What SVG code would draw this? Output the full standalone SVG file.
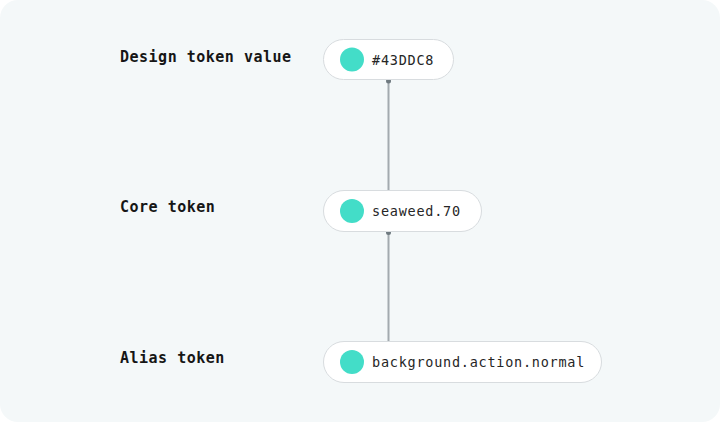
<svg xmlns="http://www.w3.org/2000/svg" width="720" height="422" viewBox="0 0 720 422">
<style>
.label{font-family:"DejaVu Sans Mono","Liberation Mono",monospace;font-weight:bold;font-size:15px;fill:#161616;letter-spacing:0.5px}
.pill{fill:#ffffff;stroke:#d8dcdf;stroke-width:1}
.sw{fill:#43ddc8}
.val{font-family:"DejaVu Sans Mono","Liberation Mono",monospace;font-size:13.5px;fill:#262626;letter-spacing:0.75px}
.conn{stroke:#a3aaaf;stroke-width:2;fill:none}
.dot{fill:#6f7a80}
</style>
<rect x="0" y="0" width="720" height="422" fill="#ffffff"/>
<rect x="0" y="0" width="720" height="422" rx="18" fill="#f4f8f9"/>
<g id="labels">
<text class="label" x="120" y="62">Design token value</text>
<text class="label" x="120" y="212">Core token</text>
<text class="label" x="120" y="363">Alias token</text>
</g>
<g id="connectors">
<line class="conn" x1="388.5" y1="81" x2="388.5" y2="190"/>
<circle class="dot" cx="388.5" cy="81" r="2.5"/>
<line class="conn" x1="388.5" y1="232" x2="388.5" y2="341"/>
<circle class="dot" cx="388.5" cy="232.5" r="2.5"/>
</g>
<g id="node-value">
<rect class="pill" x="323.5" y="39.5" width="130" height="40" rx="20"/>
<circle class="sw" cx="352" cy="59.5" r="12"/>
<text class="val" x="372" y="64.5">#43DDC8</text>
</g>
<g id="node-core">
<rect class="pill" x="323.5" y="190.5" width="158" height="41" rx="20.5"/>
<circle class="sw" cx="352" cy="211" r="12"/>
<text class="val" x="372" y="216">seaweed.70</text>
</g>
<g id="node-alias">
<rect class="pill" x="323.5" y="341.5" width="278" height="41" rx="20.5"/>
<circle class="sw" cx="352" cy="362" r="12"/>
<text class="val" x="372" y="367">background.action.normal</text>
</g>
</svg>
